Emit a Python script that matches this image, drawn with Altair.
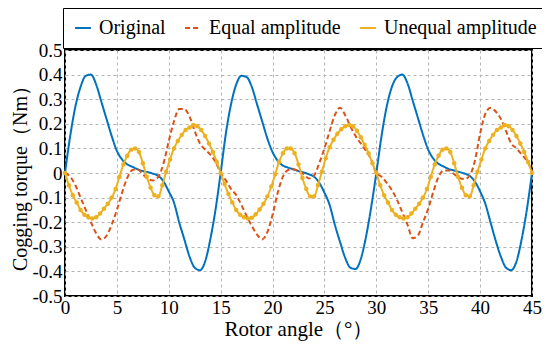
import altair as alt
import pandas as pd

# ---- data ----
angle_half = [i * 0.5 for i in range(91)]          # 0 .. 45 deg, 0.5 deg step
angle_fine = [i * 0.375 for i in range(121)]        # 0 .. 45 deg, 0.375 deg step

original = [
    0, 0.15, 0.27, 0.35, 0.395, 0.4, 0.36, 0.29, 0.22, 0.15,
    0.09, 0.055, 0.035, 0.025, 0.015, 0.008, 0.003, -0.003, -0.012, -0.035,
    -0.075, -0.12, -0.2, -0.27, -0.34, -0.385, -0.395, -0.36, -0.27, -0.15,
    0, 0.16, 0.28, 0.36, 0.395, 0.39, 0.35, 0.28, 0.21, 0.14,
    0.085, 0.05, 0.03, 0.022, 0.015, 0.008, 0.002, -0.005, -0.015, -0.04,
    -0.08, -0.13, -0.21, -0.28, -0.345, -0.385, -0.39, -0.35, -0.26, -0.14,
    0, 0.15, 0.27, 0.35, 0.39, 0.4, 0.365, 0.295, 0.225, 0.155,
    0.095, 0.058, 0.037, 0.026, 0.016, 0.01, 0.004, -0.002, -0.012, -0.035,
    -0.075, -0.125, -0.2, -0.275, -0.34, -0.385, -0.395, -0.36, -0.27, -0.15,
    0,
]

equal_amp = [
    0, -0.015, -0.05, -0.1, -0.15, -0.2, -0.245, -0.27, -0.255, -0.21,
    -0.15, -0.08, -0.02, 0.012, 0.015, -0.005, -0.025, -0.03, -0.015, 0.04,
    0.13, 0.21, 0.26, 0.26, 0.23, 0.17, 0.12, 0.095, 0.075, 0.045,
    0, -0.03, -0.065, -0.09, -0.13, -0.175, -0.215, -0.25, -0.27, -0.24,
    -0.17, -0.08, -0.015, 0.012, 0.015, 0.008, -0.005, -0.022, -0.01, 0.04,
    0.1, 0.17, 0.235, 0.265, 0.235, 0.19, 0.15, 0.12, 0.09, 0.055,
    0, -0.015, -0.04, -0.07, -0.11, -0.16, -0.21, -0.265, -0.255, -0.2,
    -0.145, -0.075, -0.015, 0.01, 0.01, -0.005, -0.02, -0.025, -0.01, 0.05,
    0.16, 0.24, 0.265, 0.25, 0.22, 0.17, 0.12, 0.1, 0.075, 0.05,
    0.01,
]

unequal_amp = [
    0, -0.05, -0.09, -0.12, -0.15, -0.17, -0.18, -0.185, -0.18, -0.165,
    -0.145, -0.125, -0.1, -0.065, -0.015, 0.035, 0.07, 0.095, 0.1, 0.085,
    0.04, -0.015, -0.06, -0.09, -0.095, -0.05, 0.005, 0.055, 0.1, 0.13,
    0.155, 0.175, 0.185, 0.195, 0.19, 0.175, 0.15, 0.12, 0.085, 0.045,
    0, -0.045, -0.085, -0.12, -0.15, -0.17, -0.18, -0.185, -0.182, -0.168,
    -0.148, -0.125, -0.095, -0.055, -0.005, 0.045, 0.08, 0.1, 0.1, 0.08,
    0.035, -0.02, -0.065, -0.095, -0.095, -0.05, 0.005, 0.06, 0.105, 0.135,
    0.16, 0.178, 0.19, 0.195, 0.19, 0.172, 0.145, 0.115, 0.08, 0.04,
    0, -0.05, -0.09, -0.12, -0.15, -0.17, -0.18, -0.185, -0.18, -0.165,
    -0.145, -0.125, -0.1, -0.065, -0.015, 0.035, 0.07, 0.095, 0.1, 0.085,
    0.04, -0.015, -0.06, -0.09, -0.095, -0.05, 0.005, 0.055, 0.1, 0.13,
    0.155, 0.175, 0.185, 0.195, 0.19, 0.175, 0.15, 0.12, 0.085, 0.045,
    0,
]

series_names = ["Original", "Equal amplitude", "Unequal amplitude"]
series_colors = ["#0072BD", "#D95319", "#EDB120"]
series_dash = [[1, 0], [5, 3], [1, 0]]

x_ticks = [0, 5, 10, 15, 20, 25, 30, 35, 40, 45]
y_ticks = [-0.5, -0.4, -0.3, -0.2, -0.1, 0, 0.1, 0.2, 0.3, 0.4, 0.5]

# ---- build table ----
df = pd.concat([
    pd.DataFrame({"angle": angle_half, "torque": original, "series": series_names[0]}),
    pd.DataFrame({"angle": angle_half, "torque": equal_amp, "series": series_names[1]}),
    pd.DataFrame({"angle": angle_fine, "torque": unequal_amp, "series": series_names[2]}),
], ignore_index=True)

FONT = "Liberation Serif"

x_enc = alt.X(
    "angle:Q",
    scale=alt.Scale(domain=[0, 45], nice=False, zero=False),
    axis=alt.Axis(
        values=x_ticks, title="Rotor angle（°）", grid=True, gridDash=[3, 3],
        gridColor="#b4b4b4", gridWidth=1, domain=False, ticks=False,
        labelFont=FONT, labelFontSize=19, labelColor="black", labelPadding=2,
        labelFlush=False, labelOverlap=False,
        titleFont=FONT, titleFontSize=21, titleFontWeight="normal",
        titleColor="black", titlePadding=1,
    ),
)
y_enc = alt.Y(
    "torque:Q",
    scale=alt.Scale(domain=[-0.5, 0.5], nice=False, zero=False),
    axis=alt.Axis(
        values=y_ticks, title="Cogging torque（Nm）", grid=True, gridDash=[3, 3],
        gridColor="#b4b4b4", gridWidth=1, domain=False, ticks=False,
        labelExpr="abs(datum.value) < 1e-9 ? '0' : (datum.value < 0 ? '-' : '') + format(abs(datum.value), '.1f')",
        labelFont=FONT, labelFontSize=19, labelColor="black", labelPadding=3,
        labelFlush=False, labelOverlap=False,
        titleFont=FONT, titleFontSize=20, titleFontWeight="normal",
        titleColor="black", titlePadding=1,
    ),
)

legend = alt.Legend(
    orient="none", legendX=-2, legendY=-42, direction="horizontal", title=None,
    symbolType="stroke", symbolStrokeWidth=2, symbolSize=250,
    labelFont=FONT, labelFontSize=20, labelColor="black", labelOffset=6,
    strokeColor="black", fillColor="white", padding=10, columnPadding=15,
    labelLimit=300,
)

lines = alt.Chart(df).mark_line(strokeWidth=2, interpolate="monotone").encode(
    x=x_enc,
    y=y_enc,
    color=alt.Color("series:N", scale=alt.Scale(domain=series_names, range=series_colors), legend=legend),
    strokeDash=alt.StrokeDash("series:N", scale=alt.Scale(domain=series_names, range=series_dash), legend=legend),
    order="angle:Q",
)

points = alt.Chart(df).transform_filter(
    alt.datum.series == series_names[2]
).mark_point(filled=True, size=20, opacity=1).encode(
    x=x_enc, y=y_enc, color=alt.value(series_colors[2])
)

chart = alt.layer(lines, points).properties(
    width=467, height=246,
    autosize=alt.AutoSizeParams(type="none"),
    padding={"left": 57, "top": 42, "right": 10, "bottom": 48},
    background="white",
).configure_view(stroke="black", strokeWidth=2)

chart.save("out.html", embed_options={"renderer": "svg", "actions": False})
